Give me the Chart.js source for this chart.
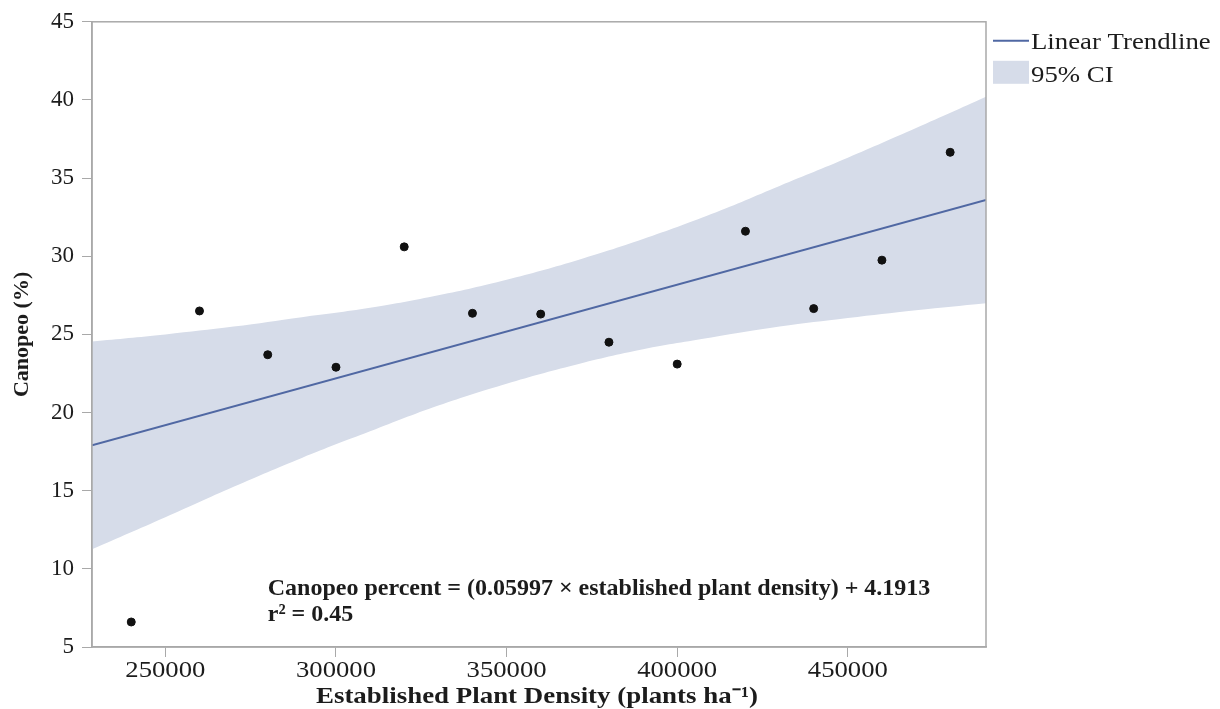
<!DOCTYPE html>
<html>
<head>
<meta charset="utf-8">
<script src="https://cdn.jsdelivr.net/npm/chart.js@4"></script>
<style>
  html, body { margin: 0; padding: 0; background: #fff; }
  #wrap { width: 1220px; height: 709px; position: relative; }
</style>
</head>
<body>
<div id="wrap"><canvas id="canopeoChart"></canvas></div>
<script>
// plant density (plants/ha) vs canopy cover
const densities = [240000, 260000, 280000, 300000, 320000, 340000, 360000, 380000, 400000, 420000, 440000, 460000, 480000]
const canopeo = [6.6, 26.5, 23.7, 22.9, 30.6, 26.35, 26.3, 24.5, 23.1, 31.6, 26.65, 29.75, 36.65]

// trendline end points
const trendX = [228500, 490500]
const trendY = [17.9, 33.6]

// 95% confidence band
const ciX = [228500, 250000, 270000, 290000, 310000, 330000, 350000, 370000, 390000, 410000, 430000, 450000, 470000, 490500]
const ciUpper = [24.55, 25.0, 25.5, 26.1, 26.7, 27.5, 28.5, 29.7, 31.1, 32.7, 34.5, 36.3, 38.2, 40.2]
const ciLower = [11.25, 13.3, 15.25, 17.1, 18.8, 20.45, 21.85, 23.05, 24.05, 24.8, 25.5, 26.05, 26.55, 27.0]

const xTicks = [250000, 300000, 350000, 400000, 450000]
const yTicks = [5, 10, 15, 20, 25, 30, 35, 40, 45]

const xLabel = 'Established Plant Density (plants ha\u207B\u00B9)'
const yLabel = 'Canopeo (%)'
const equationText = 'Canopeo percent = (0.05997 \u00D7 established plant density) + 4.1913'
const rSquaredText = 'r\u00B2 = 0.45'
const legendItems = ['Linear Trendline', '95% CI']

const lineColor = '#5068a3'
const bandColor = '#d6dce9'
const axisColor = '#a9a9a9'
const textColor = '#1c1c1c'
const serif = "'Liberation Serif', 'Times New Roman', serif"

const toPoints = (xs, ys) => xs.map((x, i) => ({ x: x, y: ys[i] }))

// the source figure has horizontally widened lettering
function wideText(ctx, text, x, y, sx) {
  ctx.save()
  ctx.translate(x, y)
  ctx.scale(sx, 1)
  ctx.fillText(text, 0, 0)
  ctx.restore()
}

const extrasPlugin = {
  id: 'extras',
  afterDraw(chart) {
    const { ctx, chartArea, scales } = chart
    ctx.save()

    // box round the plot
    ctx.strokeStyle = axisColor
    ctx.lineWidth = 1.5
    ctx.strokeRect(chartArea.left, chartArea.top, chartArea.right - chartArea.left, chartArea.bottom - chartArea.top)

    ctx.fillStyle = textColor
    ctx.textBaseline = 'alphabetic'

    // x tick labels
    ctx.textAlign = 'center'
    ctx.font = '23px ' + serif
    xTicks.forEach(v => {
      wideText(ctx, String(v), scales.x.getPixelForValue(v), chartArea.bottom + 30, 1.16)
    })

    // x title
    ctx.font = 'bold 23px ' + serif
    wideText(ctx, xLabel, (chartArea.left + chartArea.right) / 2 - 2, chartArea.bottom + 56, 1.17)

    // equation text
    ctx.textAlign = 'left'
    ctx.font = 'bold 24px ' + serif
    const ex = scales.x.getPixelForValue(280000)
    const ey = scales.y.getPixelForValue(8.3)
    ctx.fillText(equationText, ex, ey)
    ctx.fillText(rSquaredText, ex, ey + 26)

    // legend
    const lx = chartArea.right + 7
    ctx.strokeStyle = lineColor
    ctx.lineWidth = 2
    ctx.beginPath()
    ctx.moveTo(lx, chartArea.top + 19)
    ctx.lineTo(lx + 36, chartArea.top + 19)
    ctx.stroke()
    ctx.fillStyle = bandColor
    ctx.fillRect(lx, chartArea.top + 39, 36, 23)
    ctx.fillStyle = textColor
    ctx.font = '22.5px ' + serif
    wideText(ctx, legendItems[0], lx + 38, chartArea.top + 27, 1.19)
    wideText(ctx, legendItems[1], lx + 38, chartArea.top + 60, 1.19)

    ctx.restore()
  }
}

new Chart(document.getElementById('canopeoChart'), {
  type: 'scatter',
  data: {
    datasets: [
      {
        label: 'Observed',
        data: toPoints(densities, canopeo),
        backgroundColor: '#111',
        borderColor: '#111',
        pointRadius: 4,
        order: 0
      },
      {
        label: 'Linear Trendline',
        type: 'line',
        data: toPoints(trendX, trendY),
        borderColor: lineColor,
        borderWidth: 2,
        pointRadius: 0,
        fill: false,
        order: 1
      },
      {
        label: 'CI lower',
        type: 'line',
        data: toPoints(ciX, ciLower),
        borderWidth: 0,
        borderColor: 'rgba(0,0,0,0)',
        pointRadius: 0,
        tension: 0.4,
        fill: false,
        order: 3
      },
      {
        label: '95% CI',
        type: 'line',
        data: toPoints(ciX, ciUpper),
        borderWidth: 0,
        borderColor: 'rgba(0,0,0,0)',
        backgroundColor: bandColor,
        pointRadius: 0,
        tension: 0.4,
        fill: '-1',
        order: 2
      }
    ]
  },
  options: {
    responsive: true,
    maintainAspectRatio: false,
    animation: false,
    layout: { padding: { top: 20, right: 234, left: 0, bottom: 0 } },
    plugins: {
      legend: { display: false },
      tooltip: { enabled: false }
    },
    scales: {
      x: {
        type: 'linear',
        min: 228500,
        max: 490500,
        afterBuildTicks: (scale) => { scale.ticks = xTicks.map(v => ({ value: v })) },
        afterFit: (scale) => { scale.height = 62 },
        ticks: { display: false },
        grid: { drawOnChartArea: false, drawTicks: true, tickLength: 10, color: axisColor, tickColor: axisColor },
        border: { display: true, color: axisColor, width: 1.5 },
        title: { display: false }
      },
      y: {
        type: 'linear',
        min: 5,
        max: 45,
        afterBuildTicks: (scale) => { scale.ticks = yTicks.map(v => ({ value: v })) },
        afterFit: (scale) => { scale.width = 92 },
        ticks: {
          color: textColor,
          font: { family: serif, size: 23 },
          padding: 8
        },
        grid: { drawOnChartArea: false, drawTicks: true, tickLength: 10, color: axisColor, tickColor: axisColor },
        border: { display: true, color: axisColor, width: 1.5 },
        title: {
          display: true,
          text: yLabel,
          color: textColor,
          font: { family: serif, size: 22, weight: 'bold' },
          padding: { top: 9, bottom: 0 }
        }
      }
    }
  },
  plugins: [extrasPlugin]
})
</script>
</body>
</html>
